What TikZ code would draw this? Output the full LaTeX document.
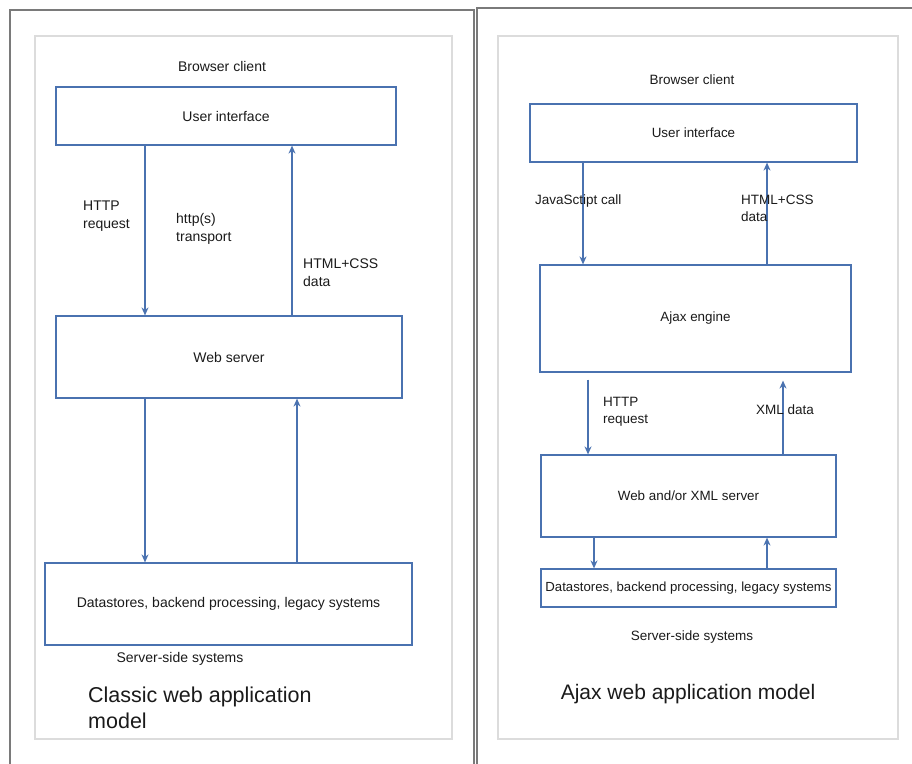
\documentclass[tikz,border=0pt]{standalone}
\usepackage{fontspec}
\setmainfont{Liberation Sans}
\usepackage{tikz}
\usetikzlibrary{arrows.meta}
\usepackage{xcolor}
\definecolor{boxblue}{HTML}{4A72B0}
\definecolor{framegray}{HTML}{7A7A7A}
\definecolor{panelgray}{HTML}{DCDCDC}
\definecolor{ink}{HTML}{1A1A1A}

\tikzset{
  box/.style={draw=boxblue, line width=1.2pt, inner sep=0pt, text=ink,
    font=\fontsize{14}{17}\selectfont},
  rbox/.style={box, font=\fontsize{13.4}{16}\selectfont},
  lbl/.style={anchor=west, align=left, inner sep=0pt, text=ink,
    font=\fontsize{14}{18}\selectfont},
  rlbl/.style={lbl, font=\fontsize{13.5}{17}\selectfont},
  flow/.style={draw=boxblue, line width=1.2pt, -{Stealth[length=8pt,width=7pt]}},
  title/.style={inner sep=0pt, text=ink, font=\fontsize{21.5}{26}\selectfont}
}

\begin{document}
\begin{tikzpicture}[x=1pt,y=-1pt]
\useasboundingbox (0,0) rectangle (912,763);
\clip (0,0) rectangle (912,763);

% frames
\draw [framegray, line width=2.8pt] (10,10) rectangle (474,790);
\draw [framegray, line width=2.8pt] (477,8) rectangle (940,790);
\draw [panelgray, line width=2pt] (35,36) rectangle (452,739);
\draw [panelgray, line width=2pt] (498,36) rectangle (898,739);

% classic model
\node [lbl, anchor=center] (cli1) at (222,66) {Browser client};
\node [box, minimum width=340pt, minimum height=58pt] (ui1) at (226,116) {User interface};
\node [box, minimum width=346pt, minimum height=82pt] (web1) at (229,357) {Web server};
\node [box, minimum width=367pt, minimum height=82pt] (data1) at (228.5,604) {Datastores, backend processing, legacy systems};
\node [lbl, anchor=center] (srv1) at (180,659) {Server-side systems};
\node [title, anchor=west, align=left] (tit1) at (88,708) {Classic web application\\model};

\coordinate (a1) at (145,0);
\coordinate (b1) at (292,0);
\coordinate (c1) at (297,0);
\draw [flow] (ui1.south -| a1) -- (web1.north -| a1);
\draw [flow] (web1.north -| b1) -- (ui1.south -| b1);
\draw [flow] (web1.south -| a1) -- (data1.north -| a1);
\draw [flow] (data1.north -| c1) -- (web1.south -| c1);

\node [lbl] (req1) at (83,216) {HTTP\\request};
\node [lbl] (tr1) at (176,229) {http(s)\\transport};
\node [lbl] (html1) at (303,273) {HTML+CSS\\data};

% ajax model
\node [rlbl, anchor=center] (cli2) at (692,80) {Browser client};
\node [rbox, minimum width=327pt, minimum height=58pt] (ui2) at (693.5,133) {User interface};
\node [rbox, minimum width=311pt, minimum height=107pt] (ajax) at (695.5,318.5) {Ajax engine};
\node [rbox, minimum width=295pt, minimum height=82pt] (xml) at (688.5,496) {Web and/or XML server};
\node [rbox, minimum width=295pt, minimum height=38pt, font=\fontsize{13.2}{16}\selectfont] (data2) at (688.5,588) {Datastores, backend processing, legacy systems};
\node [rlbl, anchor=center] (srv2) at (692,637) {Server-side systems};
\node [title, font=\fontsize{21}{26}\selectfont] (tit2) at (688,694) {Ajax web application model};

\coordinate (a2) at (583,0);
\coordinate (b2) at (767,0);
\coordinate (c2) at (588,0);
\coordinate (d2) at (783,0);
\coordinate (e2) at (594,0);
\draw [flow] (ui2.south -| a2) -- (ajax.north -| a2);
\draw [flow] (ajax.north -| b2) -- (ui2.south -| b2);
\draw [flow, shorten <=7pt] (ajax.south -| c2) -- (xml.north -| c2);
\draw [flow, shorten >=8pt] (xml.north -| d2) -- (ajax.south -| d2);
\draw [flow] (xml.south -| e2) -- (data2.north -| e2);
\draw [flow] (data2.north -| b2) -- (xml.south -| b2);

\node [rlbl] (js) at (535,201) {JavaSctipt call};
\node [rlbl] (html2) at (741,208.5) {HTML+CSS\\data};
\node [rlbl] (req2) at (603,411.5) {HTTP\\request};
\node [rlbl] (xmld) at (756,410) {XML data};

\end{tikzpicture}
\end{document}
